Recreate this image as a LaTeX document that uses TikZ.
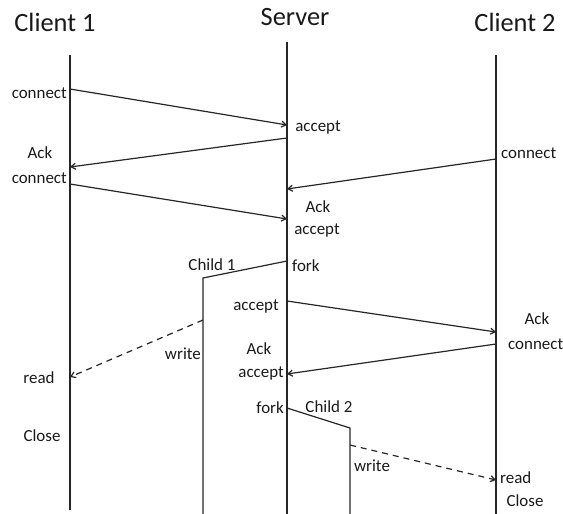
\documentclass[tikz,border=0pt]{standalone}
\usepackage{fontspec}
\setmainfont{Carlito}
\usetikzlibrary{arrows.meta}
\begin{document}
\begin{tikzpicture}[x=1bp,y=-1bp,
  life/.style={draw=black!85,line width=1.2bp},
  msg/.style={draw=black!85,line width=1.2bp,-{Straight Barb[length=4.5bp,width=6bp]}},
  reply/.style={msg,dash pattern=on 6bp off 5bp},
  title/.style={font=\fontsize{26.5}{28}\selectfont,text=black!90,inner sep=0pt},
  lbl/.style={font=\fontsize{17}{19}\selectfont,text=black!90,inner sep=0pt,align=center}]
\useasboundingbox (0,0) rectangle (563,514);
% titles
\node[title] (c1) at (55,22) {Client 1};
\node[title] (sv) at (295,17) {Server};
\node[title] (c2) at (515,22) {Client 2};
% lifelines
\coordinate (c1t) at (70,55); \coordinate (c1b) at (70,510);
\coordinate (svt) at (287,42); \coordinate (svb) at (287,514);
\coordinate (c2t) at (496,55); \coordinate (c2b) at (496,514);
\draw[life] (c1t) -- (c1b);
\draw[life] (svt) -- (svb);
\draw[life] (c2t) -- (c2b);
% children
\coordinate (f1) at (287,261); \coordinate (ch1) at (203,278); \coordinate (ch1b) at (203,514);
\coordinate (f2) at (287,408); \coordinate (ch2) at (350,428); \coordinate (ch2b) at (350,514);
\draw[life] (f1) -- (ch1) -- (ch1b);
\draw[life] (f2) -- (ch2) -- (ch2b);
% message endpoints
\coordinate (a1) at (70,89);  \coordinate (b1) at (287,125);
\coordinate (a2) at (287,138); \coordinate (b2) at (70,167);
\coordinate (a3) at (496,159); \coordinate (b3) at (287,189);
\coordinate (a4) at (70,184); \coordinate (b4) at (287,219);
\coordinate (a5) at (287,301); \coordinate (b5) at (496,332);
\coordinate (a6) at (496,344); \coordinate (b6) at (287,374);
\coordinate (a7) at (203,320); \coordinate (b7) at (70,377);
\coordinate (a8) at (350,445); \coordinate (b8) at (496,480);
\draw[msg] (a1) -- (b1);
\draw[msg] (a2) -- (b2);
\draw[msg] (a3) -- (b3);
\draw[msg] (a4) -- (b4);
\draw[msg] (a5) -- (b5);
\draw[msg] (a6) -- (b6);
\draw[reply] (a7) -- (b7);
\draw[reply] (a8) -- (b8);
% labels
\node[lbl,anchor=east] (l1) at (67,93) {connect};
\node[lbl] (l2) at (318,128) {accept};
\node[lbl] (l3) at (40,153) {Ack};
\node[lbl,anchor=east] (l4) at (67,178) {connect};
\node[lbl,anchor=west] (l5) at (501,153) {connect};
\node[lbl] (l6) at (318,207) {Ack};
\node[lbl] (l7) at (317,231) {accept};
\node[lbl] (l8) at (212,265) {Child 1};
\node[lbl,anchor=west] (l9) at (292,266) {fork};
\node[lbl] (l10) at (256,307) {accept};
\node[lbl] (l11) at (537,319) {Ack};
\node[lbl,anchor=west] (l12) at (508,344) {connect};
\node[lbl,anchor=east] (l13) at (201,354) {write};
\node[lbl] (l14) at (259,349) {Ack};
\node[lbl,anchor=east] (l15) at (284,374) {accept};
\node[lbl] (l16) at (39,378) {read};
\node[lbl] (l17) at (42,436) {Close};
\node[lbl,anchor=east] (l18) at (284,408) {fork};
\node[lbl] (l19) at (329,407) {Child 2};
\node[lbl] (l20) at (372,466) {write};
\node[lbl,anchor=west] (l21) at (500,478) {read};
\node[lbl] (l22) at (525,501) {Close};
\end{tikzpicture}
\end{document}
